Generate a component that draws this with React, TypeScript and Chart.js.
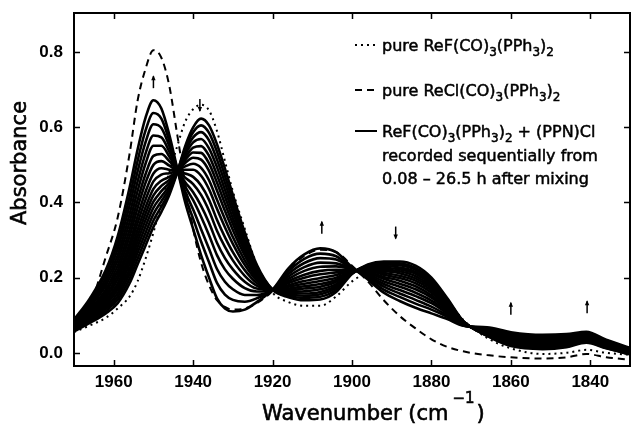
import React, { useEffect, useRef } from "react";
import { Chart, registerables } from "chart.js";

Chart.register(...registerables);

const FONT = '"DejaVu Sans", sans-serif';
const TICK_FONT = '"Liberation Sans", Arial, sans-serif';

const wavenumbers = [1970, 1966, 1962, 1959, 1956, 1954, 1952, 1950, 1948, 1946, 1944, 1942, 1940, 1938, 1936, 1934, 1932, 1930, 1927, 1924, 1920, 1916, 1912, 1908, 1904, 1900, 1896, 1892, 1888, 1884, 1880, 1876, 1872, 1866, 1860, 1852, 1846, 1841, 1836, 1830];

const xTickValues = [1960, 1940, 1920, 1900, 1880, 1860, 1840];
const yTickValues = [0, 0.2, 0.4, 0.6, 0.8];

// pure ReF(CO)3(PPh3)2 (dotted)
const pureReF = [0.055, 0.073, 0.093, 0.118, 0.15, 0.19, 0.25, 0.32, 0.40, 0.48, 0.55, 0.615, 0.648, 0.66, 0.645, 0.59, 0.51, 0.43, 0.33, 0.235, 0.16, 0.135, 0.125, 0.125, 0.15, 0.19, 0.215, 0.23, 0.238, 0.226, 0.192, 0.14, 0.088, 0.04, 0.012, -0.003, 0.0, 0.008, 0.0, -0.005];

// pure ReCl(CO)3(PPh3)2 (dashed)
const pureReCl = [0.06, 0.125, 0.255, 0.36, 0.53, 0.67, 0.755, 0.805, 0.785, 0.71, 0.58, 0.45, 0.33, 0.24, 0.18, 0.14, 0.122, 0.115, 0.118, 0.132, 0.165, 0.22, 0.258, 0.274, 0.268, 0.232, 0.19, 0.14, 0.098, 0.065, 0.036, 0.016, 0.004, -0.006, -0.012, -0.015, -0.012, -0.003, -0.012, -0.018];

// ReF(CO)3(PPh3)2 + (PPN)Cl, sequential scans 0.08 h ... 26.5 h
const scan01 = [0.057, 0.080, 0.105, 0.132, 0.185, 0.235, 0.285, 0.335, 0.375, 0.420, 0.480, 0.550, 0.600, 0.623, 0.605, 0.555, 0.490, 0.420, 0.320, 0.235, 0.168, 0.148, 0.140, 0.142, 0.162, 0.210, 0.235, 0.243, 0.243, 0.232, 0.200, 0.145, 0.085, 0.045, 0.018, 0.010, 0.015, 0.027, 0.012, -0.004];
const scan02 = [0.059, 0.083, 0.111, 0.141, 0.198, 0.250, 0.302, 0.352, 0.389, 0.428, 0.481, 0.543, 0.587, 0.605, 0.585, 0.535, 0.471, 0.405, 0.310, 0.230, 0.168, 0.152, 0.146, 0.149, 0.167, 0.211, 0.233, 0.239, 0.238, 0.226, 0.195, 0.142, 0.084, 0.046, 0.020, 0.012, 0.017, 0.029, 0.013, -0.003];
const scan03 = [0.060, 0.087, 0.117, 0.150, 0.211, 0.266, 0.319, 0.369, 0.403, 0.436, 0.481, 0.535, 0.573, 0.587, 0.565, 0.514, 0.453, 0.389, 0.300, 0.225, 0.168, 0.156, 0.152, 0.156, 0.173, 0.212, 0.231, 0.235, 0.233, 0.221, 0.191, 0.140, 0.084, 0.047, 0.022, 0.014, 0.019, 0.030, 0.014, -0.002];
const scan04 = [0.062, 0.090, 0.122, 0.159, 0.223, 0.281, 0.336, 0.386, 0.416, 0.444, 0.482, 0.528, 0.560, 0.569, 0.544, 0.494, 0.434, 0.374, 0.289, 0.220, 0.168, 0.160, 0.158, 0.162, 0.178, 0.213, 0.229, 0.231, 0.227, 0.215, 0.186, 0.137, 0.083, 0.049, 0.024, 0.016, 0.020, 0.031, 0.016, -0.001];
const scan05 = [0.063, 0.093, 0.128, 0.168, 0.236, 0.296, 0.353, 0.402, 0.430, 0.452, 0.482, 0.520, 0.546, 0.550, 0.524, 0.473, 0.416, 0.358, 0.279, 0.215, 0.168, 0.163, 0.164, 0.169, 0.183, 0.214, 0.227, 0.226, 0.222, 0.210, 0.181, 0.134, 0.082, 0.050, 0.025, 0.018, 0.022, 0.033, 0.017, 0.000];
const scan06 = [0.065, 0.096, 0.134, 0.177, 0.249, 0.311, 0.370, 0.419, 0.444, 0.460, 0.483, 0.513, 0.533, 0.532, 0.504, 0.453, 0.397, 0.343, 0.269, 0.210, 0.168, 0.167, 0.171, 0.176, 0.189, 0.215, 0.225, 0.222, 0.217, 0.204, 0.176, 0.131, 0.082, 0.051, 0.027, 0.020, 0.024, 0.034, 0.018, 0.000];
const scan07 = [0.066, 0.100, 0.140, 0.185, 0.262, 0.327, 0.387, 0.436, 0.458, 0.468, 0.483, 0.505, 0.519, 0.514, 0.484, 0.432, 0.378, 0.327, 0.259, 0.205, 0.168, 0.171, 0.177, 0.183, 0.194, 0.215, 0.223, 0.218, 0.212, 0.198, 0.172, 0.129, 0.081, 0.052, 0.029, 0.021, 0.026, 0.036, 0.019, 0.001];
const scan08 = [0.068, 0.103, 0.146, 0.196, 0.277, 0.345, 0.407, 0.456, 0.474, 0.478, 0.484, 0.496, 0.503, 0.492, 0.459, 0.407, 0.356, 0.308, 0.246, 0.199, 0.168, 0.176, 0.184, 0.191, 0.200, 0.216, 0.221, 0.213, 0.205, 0.192, 0.166, 0.125, 0.080, 0.053, 0.031, 0.024, 0.028, 0.037, 0.020, 0.002];
const scan09 = [0.070, 0.107, 0.153, 0.207, 0.292, 0.363, 0.428, 0.477, 0.491, 0.487, 0.484, 0.487, 0.487, 0.471, 0.435, 0.383, 0.334, 0.290, 0.234, 0.193, 0.168, 0.180, 0.191, 0.199, 0.207, 0.218, 0.218, 0.208, 0.199, 0.185, 0.160, 0.122, 0.080, 0.055, 0.034, 0.026, 0.030, 0.039, 0.022, 0.003];
const scan10 = [0.072, 0.112, 0.161, 0.219, 0.310, 0.385, 0.452, 0.500, 0.510, 0.498, 0.485, 0.477, 0.468, 0.445, 0.407, 0.354, 0.308, 0.268, 0.220, 0.186, 0.168, 0.186, 0.200, 0.209, 0.214, 0.219, 0.215, 0.202, 0.192, 0.177, 0.153, 0.118, 0.079, 0.056, 0.036, 0.029, 0.032, 0.041, 0.023, 0.004];
const scan11 = [0.074, 0.116, 0.169, 0.232, 0.328, 0.406, 0.475, 0.524, 0.529, 0.510, 0.486, 0.466, 0.449, 0.420, 0.378, 0.325, 0.282, 0.246, 0.205, 0.179, 0.168, 0.191, 0.208, 0.218, 0.221, 0.220, 0.213, 0.197, 0.184, 0.169, 0.147, 0.114, 0.078, 0.058, 0.039, 0.031, 0.035, 0.043, 0.025, 0.006];
const scan12 = [0.077, 0.122, 0.179, 0.246, 0.348, 0.430, 0.503, 0.551, 0.551, 0.522, 0.486, 0.454, 0.427, 0.391, 0.346, 0.293, 0.252, 0.222, 0.189, 0.171, 0.168, 0.197, 0.218, 0.229, 0.230, 0.222, 0.209, 0.190, 0.176, 0.160, 0.139, 0.110, 0.077, 0.060, 0.042, 0.034, 0.037, 0.046, 0.027, 0.007];
const scan13 = [0.079, 0.127, 0.188, 0.260, 0.369, 0.455, 0.530, 0.578, 0.573, 0.535, 0.487, 0.442, 0.406, 0.362, 0.313, 0.260, 0.222, 0.197, 0.172, 0.163, 0.168, 0.203, 0.228, 0.240, 0.238, 0.223, 0.206, 0.183, 0.167, 0.151, 0.132, 0.105, 0.076, 0.062, 0.045, 0.037, 0.040, 0.048, 0.029, 0.008];
const scan14 = [0.082, 0.133, 0.198, 0.276, 0.392, 0.482, 0.560, 0.608, 0.598, 0.550, 0.488, 0.429, 0.381, 0.329, 0.277, 0.223, 0.189, 0.169, 0.154, 0.154, 0.168, 0.210, 0.239, 0.252, 0.248, 0.225, 0.203, 0.176, 0.158, 0.141, 0.123, 0.100, 0.074, 0.064, 0.048, 0.041, 0.043, 0.051, 0.031, 0.010];
const scan15 = [0.085, 0.139, 0.209, 0.292, 0.415, 0.510, 0.591, 0.638, 0.623, 0.564, 0.489, 0.415, 0.357, 0.296, 0.241, 0.186, 0.155, 0.141, 0.136, 0.145, 0.168, 0.217, 0.250, 0.264, 0.257, 0.226, 0.199, 0.168, 0.149, 0.131, 0.115, 0.096, 0.073, 0.066, 0.051, 0.044, 0.047, 0.053, 0.033, 0.011];
const scan16 = [0.088, 0.145, 0.220, 0.310, 0.440, 0.540, 0.625, 0.672, 0.650, 0.580, 0.490, 0.400, 0.330, 0.260, 0.200, 0.145, 0.118, 0.110, 0.115, 0.135, 0.168, 0.225, 0.262, 0.278, 0.268, 0.228, 0.195, 0.160, 0.138, 0.120, 0.105, 0.090, 0.072, 0.068, 0.055, 0.048, 0.050, 0.056, 0.035, 0.013];

const mixtureScans = [scan01, scan02, scan03, scan04, scan05, scan06, scan07, scan08, scan09, scan10, scan11, scan12, scan13, scan14, scan15, scan16];

// Trend arrows (position in data units)
const arrowWavenumbers = [1950, 1938.3, 1907.6, 1889, 1860, 1840.8];
const arrowAbsorbances = [0.72, 0.659, 0.333, 0.32, 0.117, 0.121];
const arrowDirections = ["up", "down", "up", "down", "up", "up"];

// Legend ("_n" marks a subscript digit)
const legendStyles = ["dotted", "dashed", "solid"];
const legendTexts = [
  ["pure ReF(CO)_3(PPh_3)_2"],
  ["pure ReCl(CO)_3(PPh_3)_2"],
  ["ReF(CO)_3(PPh_3)_2 + (PPN)Cl", "recorded sequentially from", "0.08 \u2013 26.5 h after mixing"],
];

const yAxisTitle = "Absorbance";
const xAxisTitle = "Wavenumber (cm";
const xAxisTitleSup = "\u22121";

const toPoints = (arr: number[]) => arr.map((v, i) => ({ x: wavenumbers[i], y: v }));

function heavyText(ctx: CanvasRenderingContext2D, t: string, x: number, y: number) {
  ctx.fillText(t, x, y);
  ctx.strokeText(t, x, y);
}

function drawRich(ctx: CanvasRenderingContext2D, text: string, x: number, y: number, size: number) {
  const parts = text.split(/_(\d)/);
  let cx = x;
  parts.forEach((p, i) => {
    if (!p) return;
    if (i % 2 === 1) {
      ctx.font = `${Math.round(size * 0.72)}px ${FONT}`;
      heavyText(ctx, p, cx, y + size * 0.32);
    } else {
      ctx.font = `${size}px ${FONT}`;
      heavyText(ctx, p, cx, y);
    }
    cx += ctx.measureText(p).width;
  });
}

const overlayPlugin = {
  id: "overlay",
  afterDraw(chart: any) {
    const { ctx, chartArea: a, scales } = chart;
    const xs = scales.x;
    const ys = scales.y;
    ctx.save();
    ctx.strokeStyle = "#000";
    ctx.fillStyle = "#000";
    ctx.setLineDash([]);
    // frame
    ctx.lineWidth = 2;
    ctx.strokeRect(a.left, a.top, a.right - a.left, a.bottom - a.top);
    // inward ticks
    ctx.lineWidth = 1.5;
    const tl = 6;
    ctx.beginPath();
    xTickValues.forEach((v) => {
      const px = Math.round(xs.getPixelForValue(v)) + 0.5;
      ctx.moveTo(px, a.bottom);
      ctx.lineTo(px, a.bottom - tl);
      ctx.moveTo(px, a.top);
      ctx.lineTo(px, a.top + tl);
    });
    yTickValues.forEach((v) => {
      const py = Math.round(ys.getPixelForValue(v)) + 0.5;
      ctx.moveTo(a.left, py);
      ctx.lineTo(a.left + tl, py);
      ctx.moveTo(a.right, py);
      ctx.lineTo(a.right - tl, py);
    });
    ctx.stroke();

    // arrows
    ctx.lineWidth = 1.5;
    arrowWavenumbers.forEach((w, i) => {
      const px = xs.getPixelForValue(w);
      const py = ys.getPixelForValue(arrowAbsorbances[i]);
      const up = arrowDirections[i] === "up";
      const half = 6;
      const tipY = up ? py - half : py + half;
      const tailY = up ? py + half : py - half;
      ctx.beginPath();
      ctx.moveTo(px, tailY);
      ctx.lineTo(px, tipY);
      ctx.stroke();
      ctx.beginPath();
      ctx.moveTo(px, tipY + (up ? -1 : 1));
      ctx.lineTo(px - 2.2, tipY + (up ? 4 : -4));
      ctx.lineTo(px + 2.2, tipY + (up ? 4 : -4));
      ctx.closePath();
      ctx.fill();
    });

    // legend
    const sx0 = 355;
    const sx1 = 377;
    const tx = 382;
    const rowY = [45, 90, 131];
    const lineGap = 23.5;
    ctx.textBaseline = "alphabetic";
    ctx.textAlign = "left";
    legendStyles.forEach((st, i) => {
      const y = rowY[i];
      ctx.lineWidth = 2;
      if (st === "dotted") ctx.setLineDash([2, 4]);
      else if (st === "dashed") ctx.setLineDash([7, 5]);
      else ctx.setLineDash([]);
      ctx.beginPath();
      ctx.moveTo(sx0, y);
      ctx.lineTo(sx1, y);
      ctx.stroke();
      ctx.setLineDash([]);
      ctx.lineWidth = 0.5;
      legendTexts[i].forEach((t, j) => {
        drawRich(ctx, t, tx, y + 6 + j * lineGap, 16);
      });
    });

    // axis titles
    ctx.lineWidth = 0.6;
    ctx.font = `21px ${FONT}`;
    ctx.save();
    ctx.translate(26, 163);
    ctx.rotate(-Math.PI / 2);
    ctx.textAlign = "center";
    heavyText(ctx, yAxisTitle, 0, 0);
    ctx.restore();

    ctx.textAlign = "left";
    ctx.font = `21px ${FONT}`;
    const tX = 262;
    const tY = 420;
    heavyText(ctx, xAxisTitle, tX, tY);
    let cx = tX + ctx.measureText(xAxisTitle).width + 4;
    ctx.font = `15px ${FONT}`;
    heavyText(ctx, xAxisTitleSup, cx, tY - 17);
    cx += ctx.measureText(xAxisTitleSup).width + 2;
    ctx.font = `21px ${FONT}`;
    heavyText(ctx, ")", cx, tY);
    ctx.restore();
  },
};

export default function App() {
  const canvasRef = useRef<HTMLCanvasElement | null>(null);

  useEffect(() => {
    const canvas = canvasRef.current;
    if (!canvas) return;
    const common = {
      borderColor: "#000",
      pointRadius: 0,
      pointHoverRadius: 0,
      fill: false,
      cubicInterpolationMode: "monotone" as const,
    };
    const datasets: any[] = [
      { ...common, label: "pure ReCl", data: toPoints(pureReCl), borderWidth: 2, borderDash: [7, 5] },
      { ...common, label: "pure ReF", data: toPoints(pureReF), borderWidth: 2, borderDash: [2, 4] },
      ...mixtureScans.map((arr, i) => ({
        ...common,
        label: `scan ${i + 1}`,
        data: toPoints(arr),
        borderWidth: 2.6,
      })),
    ];

    const chart = new Chart(canvas, {
      type: "line",
      data: { datasets },
      options: {
        animation: false,
        responsive: false,
        devicePixelRatio: 1,
        events: [],
        layout: { padding: { top: 13, right: 2, left: 0, bottom: 0 } },
        plugins: { legend: { display: false }, tooltip: { enabled: false } },
        scales: {
          x: {
            type: "linear",
            reverse: true,
            min: 1830,
            max: 1970,
            grid: { display: false, drawTicks: false },
            border: { display: false },
            ticks: {
              color: "#000",
              font: { family: TICK_FONT, size: 17, weight: "bold" },
              padding: 6,
              maxRotation: 0,
              autoSkip: false,
              callback: (v: any) => String(v),
            },
            afterBuildTicks: (s: any) => {
              s.ticks = xTickValues.map((v) => ({ value: v }));
            },
            afterFit: (s: any) => {
              s.height = 60;
              s.paddingLeft = 0;
              s.paddingRight = 0;
            },
          },
          y: {
            type: "linear",
            min: -0.035,
            max: 0.904,
            grid: { display: false, drawTicks: false },
            border: { display: false },
            ticks: {
              color: "#000",
              font: { family: TICK_FONT, size: 17, weight: "bold" },
              padding: 11,
              callback: (v: any) => Number(v).toFixed(1),
            },
            afterBuildTicks: (s: any) => {
              s.ticks = yTickValues.map((v) => ({ value: v }));
            },
            afterFit: (s: any) => {
              s.width = 74;
              s.paddingTop = 0;
              s.paddingBottom = 0;
            },
          },
        },
      },
      plugins: [overlayPlugin],
    });
    return () => chart.destroy();
  }, []);

  return (
    <div style={{ position: "fixed", left: 0, top: 0, width: 632, height: 426, background: "#fff" }}>
      <canvas ref={canvasRef} width={632} height={426} style={{ width: 632, height: 426, display: "block" }} />
    </div>
  );
}
